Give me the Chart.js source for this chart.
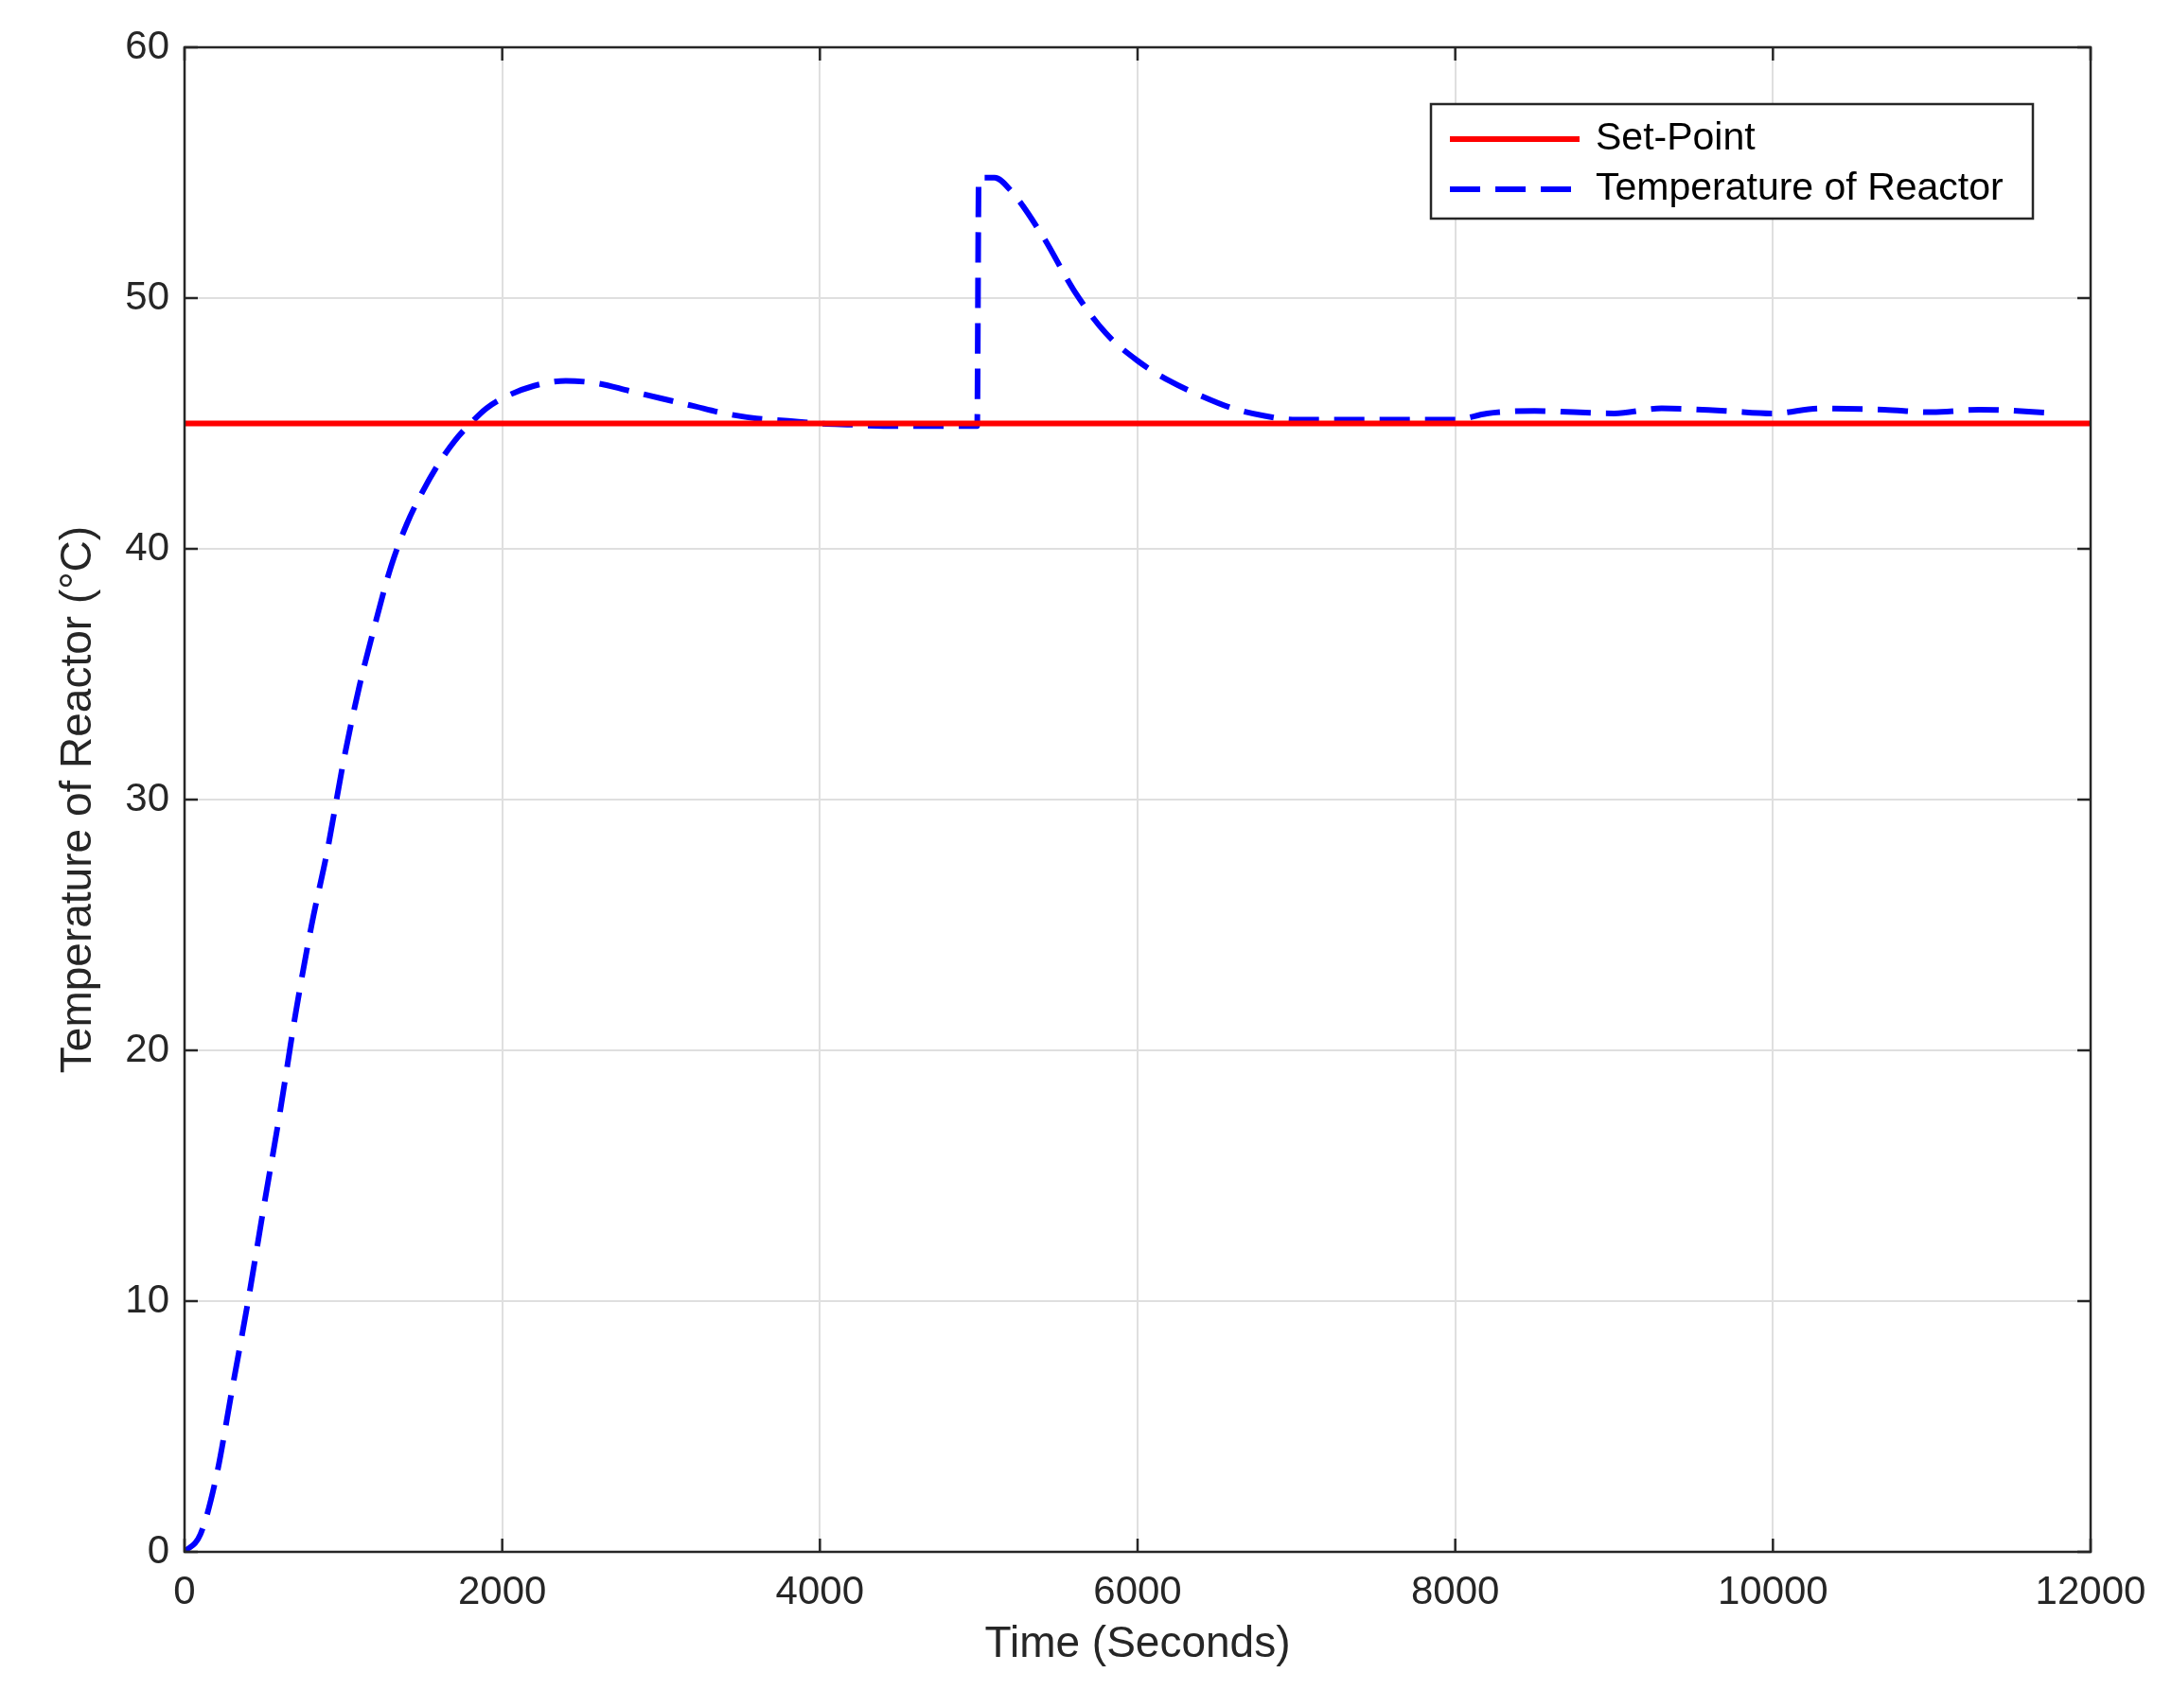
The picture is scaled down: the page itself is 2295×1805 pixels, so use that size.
<!DOCTYPE html>
<html><head><meta charset="utf-8">
<script src="https://cdn.jsdelivr.net/npm/chart.js@4"></script>
<style>html,body{margin:0;background:#fff}#w{width:2295px;height:1805px}</style>
</head><body><div id="w"><canvas id="c"></canvas></div>
<script>
const timeS = [0,100,200,300,400,500,600,700,800,900,1000,1100,1200,1300,1400,1500,1600,1700,1800,1900,2000,2200,2400,2600,2800,3000,3200,3400,3600,3800,4000,4200,4400,4600,4800,4990,5000,5100,5200,5400,5600,5800,6000,6200,6400,6600,6800,7000,7500,8000,8200,8500,9000,9300,9700,10000,10300,10700,11000,11300,11800];
const tempReactor = [0,0.7,3,6.5,10,13.8,17.5,21.5,25,28,31.5,34.5,37,39.3,41,42.3,43.4,44.3,45,45.6,46,46.5,46.7,46.6,46.3,46,45.7,45.4,45.2,45.1,45,44.95,44.9,44.9,44.9,44.9,54.8,54.8,54.3,52.5,50.3,48.6,47.5,46.7,46.1,45.6,45.3,45.15,45.15,45.15,45.4,45.5,45.4,45.6,45.5,45.4,45.6,45.55,45.45,45.55,45.4];
const setPointT = [0,12000];
const setPointV = [45,45];
const xTicks = [0,2000,4000,6000,8000,10000,12000];
const yTicks = [0,10,20,30,40,50,60];
const font = 'Liberation Sans, Arial, sans-serif';

const frame = {id:'frame', afterDraw(ch){
  const {ctx, chartArea:a} = ch; const x=ch.scales.x, y=ch.scales.y;
  ctx.save(); ctx.strokeStyle='#262626'; ctx.lineWidth=2.5;
  ctx.strokeRect(a.left,a.top,a.right-a.left,a.bottom-a.top);
  const L=14; ctx.beginPath();
  xTicks.forEach(v=>{const p=x.getPixelForValue(v);ctx.moveTo(p,a.bottom);ctx.lineTo(p,a.bottom-L);ctx.moveTo(p,a.top);ctx.lineTo(p,a.top+L);});
  yTicks.forEach(v=>{const p=y.getPixelForValue(v);ctx.moveTo(a.left,p);ctx.lineTo(a.left+L,p);ctx.moveTo(a.right,p);ctx.lineTo(a.right-L,p);});
  ctx.stroke();
  const bx=1512,by=110,bw=636,bh=121;
  ctx.fillStyle='#fff';ctx.fillRect(bx,by,bw,bh);ctx.strokeRect(bx,by,bw,bh);
  ch.data.datasets.forEach((d,i)=>{
    const ly=by+37+i*53;
    ctx.strokeStyle=d.borderColor;ctx.lineWidth=d.borderWidth;ctx.setLineDash(d.borderDash||[]);
    ctx.beginPath();ctx.moveTo(bx+20,ly);ctx.lineTo(bx+157,ly);ctx.stroke();ctx.setLineDash([]);
    ctx.fillStyle='#000';ctx.font='41px '+font;ctx.textBaseline='middle';ctx.fillText(d.label,bx+174,ly);
  });
  ctx.restore();
}};

new Chart(document.getElementById('c'),{
  type:'line',
  data:{datasets:[
    {label:'Set-Point',data:setPointT.map((t,i)=>({x:t,y:setPointV[i]})),borderColor:'#ff0000',borderWidth:6,pointRadius:0},
    {label:'Temperature of Reactor',data:timeS.map((t,i)=>({x:t,y:tempReactor[i]})),borderColor:'#0000ff',borderWidth:6,borderDash:[32,16],pointRadius:0,cubicInterpolationMode:'monotone'}
  ]},
  options:{responsive:true,maintainAspectRatio:false,animation:false,
    layout:{padding:{top:50,right:86,left:52,bottom:35}},
    plugins:{legend:{display:false},tooltip:{enabled:false}},
    scales:{
      x:{type:'linear',min:0,max:12000,afterBuildTicks:s=>{s.ticks=xTicks.map(v=>({value:v}));},
        afterFit:s=>{s.height=130;},
        grid:{color:'#dfdfdf',lineWidth:2,drawTicks:false},border:{display:false},
        ticks:{color:'#262626',font:{family:font,size:42},padding:18,maxRotation:0,callback:v=>String(v)},
        title:{display:true,text:'Time (Seconds)',color:'#262626',font:{family:font,size:46},padding:{top:0}}},
      y:{min:0,max:60,afterBuildTicks:s=>{s.ticks=yTicks.map(v=>({value:v}));},
        afterFit:s=>{s.width=143;},
        grid:{color:'#dfdfdf',lineWidth:2,drawTicks:false},border:{display:false},
        ticks:{color:'#262626',font:{family:font,size:42},padding:16,callback:v=>String(v)},
        title:{display:true,text:'Temperature of Reactor (°C)',color:'#262626',font:{family:font,size:46},padding:{bottom:10}}}
    }},
  plugins:[frame]
});
</script></body></html>
